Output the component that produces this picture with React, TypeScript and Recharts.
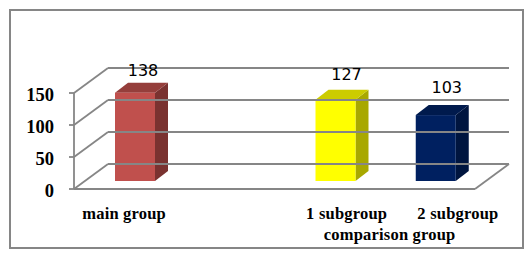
import { Bar, BarChart, LabelList, ReferenceLine, XAxis, YAxis } from "recharts";

const categories = ["main group", "", "1 subgroup", "2 subgroup"];
const parentLabels = ["", "", "comparison group", ""];
const values = [138, null, 127, 103];
const yTicks = [0, 50, 100, 150];

const frontColors = ["#C0504D", "", "#FFFF00", "#002060"];
const sideColors = ["#7A3230", "", "#A8A800", "#00153F"];
const topColors = ["#953E3B", "", "#CCCC00", "#001A4D"];

// nudges so the flat chart lines up with the 3d look of the original
const tickShift = [0, 0, 22, 33];
const labelShift = [
  [19, -25],
  [0, 0],
  [22, -28],
  [22, -30],
];

const GRID = "#868686";
const DEPTH_X = 34;
const DEPTH_Y = -25;
const BAR_X = 11;
const BAR_Y = -8;
const SIDE_X = 13;
const SIDE_Y = -10;

const data = categories.map((name, i) => ({ name, value: values[i] }));

function GridLine(props: any) {
  const { x1, x2, y1, y2 } = props;
  return (
    <g stroke={GRID} strokeWidth={1.8} fill="none">
      <line x1={x1} y1={y1} x2={x1 + DEPTH_X} y2={y1 + DEPTH_Y} />
      <line x1={x1 + DEPTH_X} y1={y1 + DEPTH_Y} x2={x2 + DEPTH_X} y2={y2 + DEPTH_Y} />
    </g>
  );
}

function FloorLine(props: any) {
  const { x1, x2, y1, y2 } = props;
  return (
    <g stroke={GRID} strokeWidth={1.8} fill="none">
      <line x1={x1} y1={y1} x2={x2} y2={y2} />
      <line x1={x2} y1={y2} x2={x2 + DEPTH_X} y2={y2 + DEPTH_Y} />
      <GridLine {...props} />
    </g>
  );
}

function Bar3D(props: any) {
  const { x, y, width, height, payload } = props;
  if (!height) return null;
  // bars skip the empty slot, so look the colour up by name and not by index
  const i = categories.indexOf(payload.name);
  const l = x + BAR_X;
  const r = l + width;
  const t = y + BAR_Y;
  const b = t + height;
  return (
    <g>
      <polygon
        points={`${r},${t} ${r + SIDE_X},${t + SIDE_Y} ${r + SIDE_X},${b + SIDE_Y} ${r},${b}`}
        fill={sideColors[i]}
      />
      <polygon
        points={`${l},${t} ${l + SIDE_X},${t + SIDE_Y} ${r + SIDE_X},${t + SIDE_Y} ${r},${t}`}
        fill={topColors[i]}
      />
      <rect x={l} y={t} width={width} height={height} fill={frontColors[i]} />
    </g>
  );
}

function ValueLabel(props: any) {
  const { x, y, width, value } = props;
  if (value == null) return null;
  const [dx, dy] = labelShift[values.indexOf(value)];
  return (
    <text
      x={x + width / 2 + dx}
      y={y + dy}
      textAnchor="middle"
      fontFamily="DejaVu Sans"
      fontSize={16}
      fill="#000"
    >
      {value}
    </text>
  );
}

function CategoryTick(props: any) {
  const { x, index, payload } = props;
  const cx = x + tickShift[index];
  return (
    <g
      fontFamily="Liberation Serif"
      fontWeight="bold"
      fontSize={16.5}
      letterSpacing={0.2}
      fill="#000"
    >
      <text x={cx} y={219} textAnchor="middle">
        {payload.value}
      </text>
      {parentLabels[index] ? (
        <text x={cx + 43} y={240} textAnchor="middle">
          {parentLabels[index]}
        </text>
      ) : null}
    </g>
  );
}

function ValueTick(props: any) {
  const { x, y, payload } = props;
  return (
    <text
      x={x - 13}
      y={y + 8}
      textAnchor="end"
      fontFamily="Liberation Serif"
      fontWeight="bold"
      fontSize={18.5}
      fill="#000"
    >
      {payload.value}
    </text>
  );
}

export default function App() {
  return (
    <div
      style={{
        position: "absolute",
        left: 0,
        top: 0,
        width: 531,
        height: 257,
        background: "#fff",
      }}
    >
      <div
        style={{
          position: "absolute",
          left: 9,
          top: 9,
          width: 511,
          height: 236,
          border: "2px solid #868686",
        }}
      />
      <BarChart
        width={531}
        height={257}
        data={data}
        margin={{ top: 93, right: 56, left: 0, bottom: 0 }}
        barSize={40}
        style={{ position: "absolute", left: 0, top: 0 }}
      >
        <XAxis
          dataKey="name"
          height={68}
          interval={0}
          axisLine={false}
          tickLine={false}
          tick={<CategoryTick />}
        />
        <YAxis
          width={74}
          domain={[0, 150]}
          ticks={yTicks}
          axisLine={{ stroke: GRID, strokeWidth: 1.8 }}
          tickLine={{ stroke: GRID, strokeWidth: 1.8 }}
          tickSize={5}
          tick={<ValueTick />}
        />
        <ReferenceLine y={0} shape={<FloorLine />} />
        {yTicks.slice(1).map((t) => (
          <ReferenceLine key={t} y={t} shape={<GridLine />} />
        ))}
        <Bar dataKey="value" isAnimationActive={false} shape={<Bar3D />}>
          <LabelList dataKey="value" content={<ValueLabel />} />
        </Bar>
      </BarChart>
    </div>
  );
}
